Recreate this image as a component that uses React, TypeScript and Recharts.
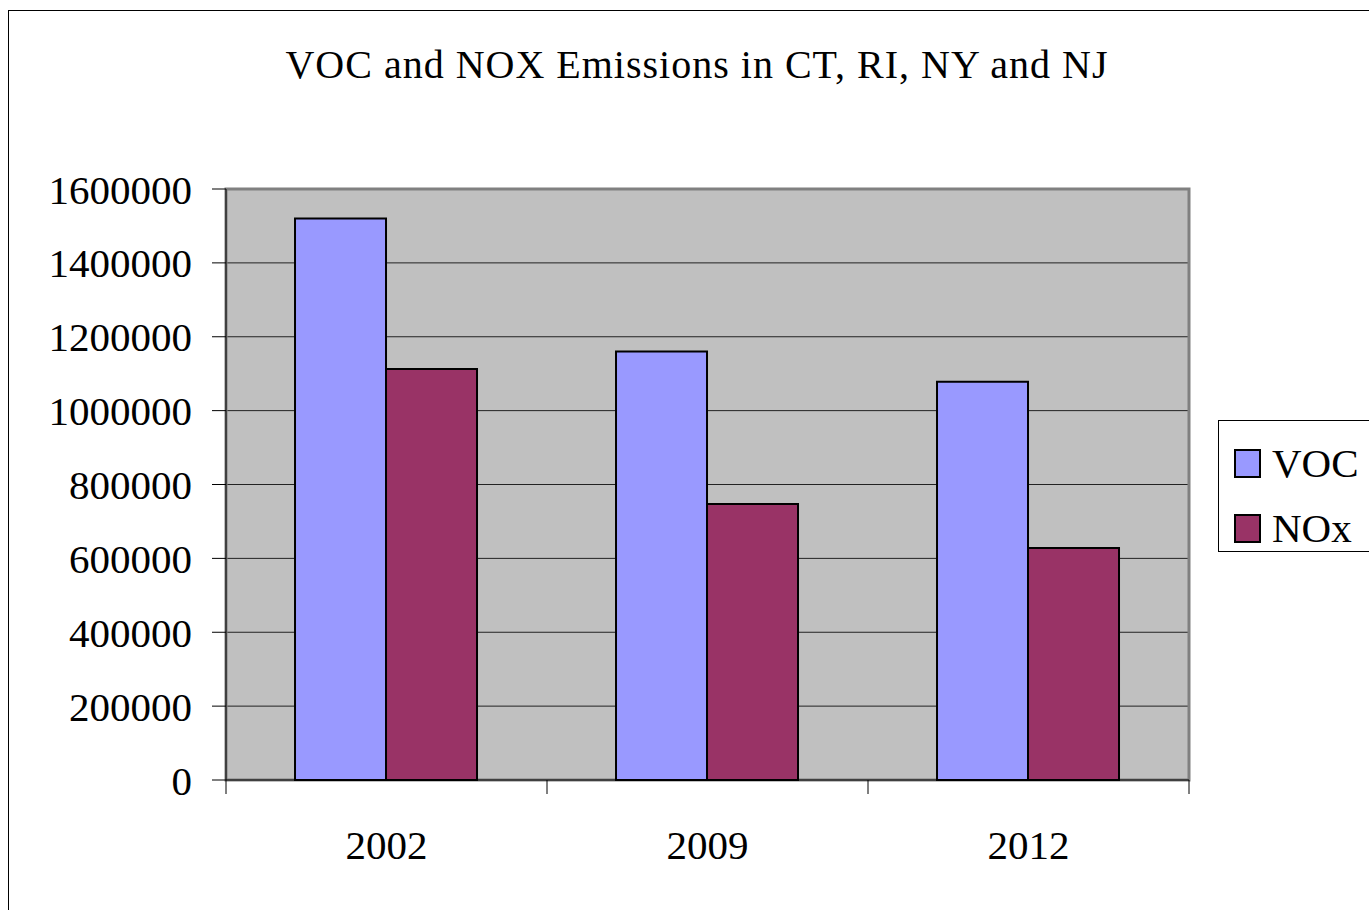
import React from 'react';
import {
    BarChart,
    Bar,
    XAxis,
    YAxis,
    CartesianGrid,
    Legend,
    ReferenceArea
} from 'recharts';

const years = ['2002', '2009', '2012'];
const vocValues = [1520000, 1160000, 1078000];
const noxValues = [1113000, 747000, 628000];
const yTicks = [0, 200000, 400000, 600000, 800000, 1000000, 1200000, 1400000, 1600000];

const seriesInfo = [
    { key: 'VOC', color: '#9999ff' },
    { key: 'NOx', color: '#993366' }
];

const data = years.map((year, i) => ({ year, VOC: vocValues[i], NOx: noxValues[i] }));

const FONT = '"Liberation Serif", "Times New Roman", serif';

const YearTick = (props: any) => {
    const { x, y, payload, index } = props;
    const half = payload && payload.offset ? payload.offset : 0;
    return (
        <g>
            <line x1={x - half} x2={x - half} y1={y} y2={y + 14} stroke="#000" strokeWidth={1} />
            {index === years.length - 1 && (
                <line x1={x + half} x2={x + half} y1={y} y2={y + 14} stroke="#000" strokeWidth={1} />
            )}
            <text x={x} y={y + 50} dy="0.71em" textAnchor="middle" fontSize={41} fontFamily={FONT} fill="#000">
                {payload.value}
            </text>
        </g>
    );
};

const LegendBox = () => (
    <div style={{
        border: '1px solid #000',
        width: 170,
        height: 132,
        boxSizing: 'border-box',
        background: '#fff',
        position: 'relative',
        fontFamily: FONT
    }}>
        {seriesInfo.map((s, i) => (
            <div key={s.key} style={{ position: 'absolute', left: 15, top: 22 + i * 65, display: 'flex', alignItems: 'center' }}>
                <div style={{ width: 27, height: 29, boxSizing: 'border-box', border: '2px solid #000', background: s.color }} />
                <span style={{ fontSize: 41, lineHeight: '41px', marginLeft: 11, color: '#000' }}>{s.key}</span>
            </div>
        ))}
    </div>
);

export default function App() {
    return (
        <div style={{ position: 'absolute', left: 0, top: 0, width: 1369, height: 910, overflow: 'hidden', background: '#fff' }}>
            <div style={{ position: 'absolute', left: 8, top: 10, width: 1500, height: 1000, border: '1px solid #000' }} />
            <div style={{
                position: 'absolute',
                left: 0,
                width: 1394,
                top: 45,
                textAlign: 'center',
                fontFamily: FONT,
                fontSize: 40,
                lineHeight: '40px',
                letterSpacing: 1,
                color: '#000',
                whiteSpace: 'nowrap'
            }}>
                VOC and NOX Emissions in CT, RI, NY and NJ
            </div>
            <div style={{ position: 'absolute', left: 0, top: 0 }}>
                <BarChart
                    width={1369}
                    height={910}
                    data={data}
                    margin={{ top: 189, right: 10, left: 0, bottom: 70 }}
                    barGap={0}
                    barCategoryGap="21.5%"
                >
                    <CartesianGrid vertical={false} fill="#c0c0c0" stroke="#222" strokeWidth={1} />
                    <ReferenceArea x1="2002" x2="2012" y1={0} y2={1600000} fill="none" stroke="#808080" strokeWidth={3} />
                    <XAxis
                        dataKey="year"
                        height={60}
                        tickLine={false}
                        tickSize={0}
                        tickMargin={0}
                        axisLine={{ stroke: '#000' }}
                        tick={<YearTick />}
                        interval={0}
                    />
                    <YAxis
                        width={226}
                        domain={[0, 1600000]}
                        ticks={yTicks}
                        interval={0}
                        tickSize={14}
                        tickMargin={20}
                        axisLine={{ stroke: '#000' }}
                        tickLine={{ stroke: '#000' }}
                        tick={{ fontSize: 41, fontFamily: FONT, fill: '#000' }}
                    />
                    <Legend
                        layout="horizontal"
                        verticalAlign="middle"
                        align="right"
                        content={<LegendBox />}
                        wrapperStyle={{ left: 1218, top: 420, width: 170, height: 132, right: 'auto', bottom: 'auto' }}
                    />
                    {seriesInfo.map((s) => (
                        <Bar key={s.key} dataKey={s.key} fill={s.color} stroke="#000" strokeWidth={2} isAnimationActive={false} />
                    ))}
                </BarChart>
            </div>
        </div>
    );
}
